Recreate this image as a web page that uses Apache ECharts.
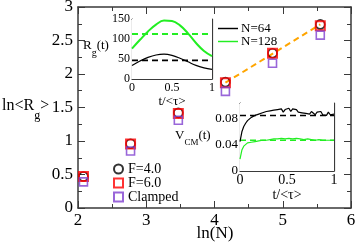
<!DOCTYPE html>
<html><head><meta charset="utf-8">
<script src="https://cdn.jsdelivr.net/npm/echarts@6/dist/echarts.min.js"></script>
<style>html,body{margin:0;padding:0;background:#fff}#c{width:357px;height:244px}</style>
</head><body><div id="c"></div>
<script>
// main panel: ln<Rg> vs ln(N)
const lnN = [2.08, 2.77, 3.47, 4.16, 4.85, 5.55];
const rgF4 = [0.47, 0.96, 1.42, 1.88, 2.31, 2.74];
const rgF6 = [0.47, 0.955, 1.41, 1.87, 2.31, 2.72];
const rgClamped = [0.39, 0.85, 1.31, 1.74, 2.16, 2.58];
const fitX = [4.16, 5.55];
const fitY = [1.87, 2.74];

// inset 1: Rg(t)
const tRg = [0, 0.1, 0.2, 0.3, 0.4, 0.5, 0.6, 0.7, 0.8, 0.9, 1];
const rg64 = [34, 45, 54, 60, 62, 59, 52, 43, 34, 28, 24];
const rg128 = [76, 98, 119, 136, 146, 145, 134, 114, 90, 70, 57];
const rg64Mean = 46.5;
const rg128Mean = 112.7;

// inset 2: Vcm(t)
const tV = [0,0.02,0.04,0.06,0.08,0.1,0.12,0.14,0.16,0.18,0.2,0.22,0.24,0.26,0.28,0.3,0.32,0.34,0.36,0.38,0.4,0.42,0.44,0.46,0.48,0.5,0.52,0.54,0.56,0.58,0.6,0.62,0.64,0.66,0.68,0.7,0.72,0.74,0.76,0.78,0.8,0.82,0.84,0.86,0.88,0.9,0.92,0.94,0.96,0.98,1];
const v64 = [0.045,0.060,0.068,0.073,0.077,0.080,0.082,0.081,0.085,0.084,0.087,0.085,0.089,0.087,0.091,0.088,0.092,0.089,0.093,0.090,0.094,0.091,0.095,0.090,0.094,0.092,0.096,0.091,0.095,0.092,0.094,0.090,0.093,0.089,0.092,0.088,0.091,0.087,0.091,0.089,0.086,0.090,0.087,0.091,0.086,0.089,0.085,0.090,0.086,0.089,0.087];
const v128 = [0.018,0.032,0.038,0.041,0.043,0.045,0.044,0.046,0.045,0.047,0.046,0.048,0.047,0.049,0.047,0.050,0.048,0.050,0.049,0.051,0.049,0.051,0.050,0.052,0.049,0.051,0.050,0.052,0.049,0.051,0.050,0.051,0.049,0.050,0.048,0.050,0.049,0.050,0.048,0.049,0.047,0.049,0.048,0.049,0.047,0.048,0.047,0.049,0.047,0.048,0.047];
const v64Mean = 0.085;
const v128Mean = 0.047;

const FONT = 'Liberation Serif';
const AX = '#3a3a3a';
const RED = '#ff0000', PURPLE = '#8040d0', GREEN = '#22ee22', ORANGE = '#ffa500';

function zip(a, b) { return a.map((v, i) => [v, b[i]]); }

function axis(o) {
  const base = {
    type: 'value', gridIndex: o.grid, min: o.min, max: o.max, interval: o.interval,
    position: o.position,
    axisLine: { show: true, onZero: false, lineStyle: { color: AX, width: o.lw || 1.2 } },
    axisTick: { show: true, inside: true, length: o.tick || 6, lineStyle: { color: AX, width: 1 } },
    minorTick: { show: o.noMinor ? false : true, splitNumber: 2, length: o.minor || 3, lineStyle: { color: AX, width: 1 } },
    splitLine: { show: false },
    axisLabel: { show: !o.mirror, fontFamily: FONT, fontSize: o.fs, color: '#000', margin: o.margin || 6, formatter: o.fmt }
  };
  if (o.name) {
    base.name = o.name; base.nameLocation = 'middle'; base.nameGap = o.nameGap;
    base.nameTextStyle = { fontFamily: FONT, fontSize: o.nfs, color: '#000' };
  }
  return base;
}

const vFmt = v => (Math.abs(v) < 1e-9 ? '0' : (Math.abs(v - 0.04) < 1e-6 ? '0.04' : (Math.abs(v - 0.08) < 1e-6 ? '0.08' : '')));
const LINE_ICON = 'path://M0,0 H22 V1.6 H0 Z';
const insetLegendText = { fontFamily: FONT, fontSize: 13, lineHeight: 12, color: '#000', padding: [0, 0, 0, -2] };

const chart = echarts.init(document.getElementById('c'), null, { renderer: 'canvas' });
const option = {
  backgroundColor: '#fff',
  animation: false,
  grid: [
    { left: 78, top: 7, width: 273, height: 201, outerBoundsMode: 'none', containLabel: false },
    { left: 132, top: 19, width: 80, height: 60, show: true, backgroundColor: '#fff', borderWidth: 0, z: 3, outerBoundsMode: 'none', containLabel: false },
    { left: 240, top: 103, width: 94, height: 68, show: true, backgroundColor: '#fff', borderWidth: 0, z: 3, outerBoundsMode: 'none', containLabel: false }
  ],
  xAxis: [
    axis({ grid: 0, min: 2, max: 6, interval: 1, position: 'bottom', fs: 17, margin: 4, lw: 1.5, tick: 7, minor: 4 }),
    axis({ grid: 0, min: 2, max: 6, interval: 1, position: 'top', mirror: true, lw: 1.5, tick: 7, minor: 4 }),
    axis({ grid: 1, min: 0, max: 1, interval: 0.5, position: 'bottom', fs: 12, margin: 3, tick: 4, minor: 2, name: 't/<τ>', nameGap: 14, nfs: 13 }),
    axis({ grid: 1, min: 0, max: 1, interval: 0.5, position: 'top', mirror: true, tick: 4, minor: 2 }),
    axis({ grid: 2, min: 0, max: 1, interval: 0.5, position: 'bottom', fs: 14, margin: 2, tick: 4, minor: 2, name: 't/<τ>', nameGap: 17, nfs: 14 }),
    axis({ grid: 2, min: 0, max: 1, interval: 0.5, position: 'top', mirror: true, tick: 4, minor: 2 })
  ],
  yAxis: [
    axis({ grid: 0, min: 0, max: 3, interval: 0.5, position: 'left', fs: 17, margin: 5, lw: 1.5, tick: 7, minor: 4 }),
    axis({ grid: 0, min: 0, max: 3, interval: 0.5, position: 'right', mirror: true, lw: 1.5, tick: 7, minor: 4 }),
    axis({ grid: 1, min: 0, max: 150, interval: 50, position: 'left', fs: 12, margin: 2, tick: 4, minor: 2 }),
    axis({ grid: 1, min: 0, max: 150, interval: 50, position: 'right', mirror: true, tick: 4, minor: 2 }),
    axis({ grid: 2, min: 0, max: 0.104, interval: 0.02, position: 'left', fs: 13, margin: 2, tick: 3, noMinor: true, fmt: vFmt }),
    axis({ grid: 2, min: 0, max: 0.104, interval: 0.02, position: 'right', mirror: true, tick: 3, noMinor: true })
  ],
  legend: [
    {
      data: ['F=4.0', 'F=6.0', 'Clamped'], orient: 'vertical', left: 113, top: 162,
      itemWidth: 9, itemHeight: 9, itemGap: 0, padding: 0,
      textStyle: { fontFamily: FONT, fontSize: 14, lineHeight: 14, color: '#000', padding: [0, 0, 0, 0] }
    },
    {
      data: [{ name: 'N=64', icon: LINE_ICON }], orient: 'vertical', left: 218, top: 22,
      itemWidth: 20, itemHeight: 9, padding: 0, textStyle: insetLegendText
    },
    {
      data: [{ name: 'N=128', icon: LINE_ICON }], orient: 'vertical', left: 218, top: 35,
      itemWidth: 20, itemHeight: 9, padding: 0, textStyle: insetLegendText
    }
  ],
  series: [
    { name: 'F=4.0', type: 'scatter', xAxisIndex: 0, yAxisIndex: 0, data: zip(lnN, rgF4), symbol: 'circle', symbolSize: 9,
      itemStyle: { color: 'rgba(0,0,0,0)', borderColor: '#000', borderWidth: 1.6 }, z: 3 },
    { name: 'F=6.0', type: 'scatter', xAxisIndex: 0, yAxisIndex: 0, data: zip(lnN, rgF6), symbol: 'rect', symbolSize: 9,
      itemStyle: { color: 'rgba(0,0,0,0)', borderColor: RED, borderWidth: 2 }, z: 4 },
    { name: 'Clamped', type: 'scatter', xAxisIndex: 0, yAxisIndex: 0, data: zip(lnN, rgClamped), symbol: 'rect', symbolSize: 8,
      itemStyle: { color: 'rgba(0,0,0,0)', borderColor: PURPLE, borderWidth: 1.6 }, z: 4 },
    { name: 'fit', type: 'line', xAxisIndex: 0, yAxisIndex: 0, data: zip(fitX, fitY), symbol: 'none',
      lineStyle: { color: ORANGE, width: 2, type: [6, 4] }, z: 2 },

    { name: 'N=64', type: 'line', xAxisIndex: 2, yAxisIndex: 2, data: zip(tRg, rg64), symbol: 'none', smooth: 0.4,
      lineStyle: { color: '#000', width: 1.2 }, itemStyle: { color: '#000' }, z: 5 },
    { name: 'N=128', type: 'line', xAxisIndex: 2, yAxisIndex: 2, data: zip(tRg, rg128), symbol: 'none', smooth: 0.4,
      lineStyle: { color: GREEN, width: 2 }, itemStyle: { color: GREEN }, z: 5 },
    { name: 'mean64', type: 'line', xAxisIndex: 2, yAxisIndex: 2, data: [[0, rg64Mean], [1, rg64Mean]], symbol: 'none',
      lineStyle: { color: '#000', width: 1.6, type: [6, 4] }, z: 5 },
    { name: 'mean128', type: 'line', xAxisIndex: 2, yAxisIndex: 2, data: [[0, rg128Mean], [1, rg128Mean]], symbol: 'none',
      lineStyle: { color: GREEN, width: 2, type: [6, 4] }, z: 5 },

    { name: 'v128', type: 'line', xAxisIndex: 4, yAxisIndex: 4, data: zip(tV, v128), symbol: 'none',
      lineStyle: { color: GREEN, width: 1.2 }, z: 5 },
    { name: 'vmean128', type: 'line', xAxisIndex: 4, yAxisIndex: 4, data: [[0, v128Mean], [1, v128Mean]], symbol: 'none',
      lineStyle: { color: GREEN, width: 1.5, type: [6, 4] }, z: 5 },
    { name: 'v64', type: 'line', xAxisIndex: 4, yAxisIndex: 4, data: zip(tV, v64), symbol: 'none',
      lineStyle: { color: '#000', width: 1.2 }, z: 5 },
    { name: 'vmean64', type: 'line', xAxisIndex: 4, yAxisIndex: 4, data: [[0, v64Mean], [1, v64Mean]], symbol: 'none',
      lineStyle: { color: '#000', width: 1.5, type: [6, 4] }, z: 5 }
  ],
  graphic: [
    { type: 'text', left: 2, top: 98, z: 10, style: {
      text: '{a|ln<R}{s|g}{a|>}', fill: '#000',
      rich: { a: { fontFamily: FONT, fontSize: 16, lineHeight: 24, verticalAlign: 'top', fill: '#000' },
              s: { fontFamily: FONT, fontSize: 12, lineHeight: 24, verticalAlign: 'bottom', fill: '#000' } } } },
    { type: 'text', x: 215, y: 225, z: 10, style: {
      text: 'ln(N)', fill: '#000', fontFamily: FONT, fontSize: 17, align: 'center', verticalAlign: 'top' } },
    { type: 'text', left: 83, top: 39, z: 10, style: {
      text: '{a|R}{s|g}{a|(t)}', fill: '#000',
      rich: { a: { fontFamily: FONT, fontSize: 13, lineHeight: 19, verticalAlign: 'top', fill: '#000' },
              s: { fontFamily: FONT, fontSize: 10, lineHeight: 19, verticalAlign: 'bottom', fill: '#000' } } } },
    { type: 'text', left: 175, top: 129, z: 10, style: {
      text: '{a|V}{s|CM}{a|(t)}', fill: '#000',
      rich: { a: { fontFamily: FONT, fontSize: 13, lineHeight: 18, verticalAlign: 'top', fill: '#000' },
              s: { fontFamily: FONT, fontSize: 9, lineHeight: 18, verticalAlign: 'bottom', fill: '#000' } } } }
  ]
};
chart.setOption(option);
</script>
</body></html>
